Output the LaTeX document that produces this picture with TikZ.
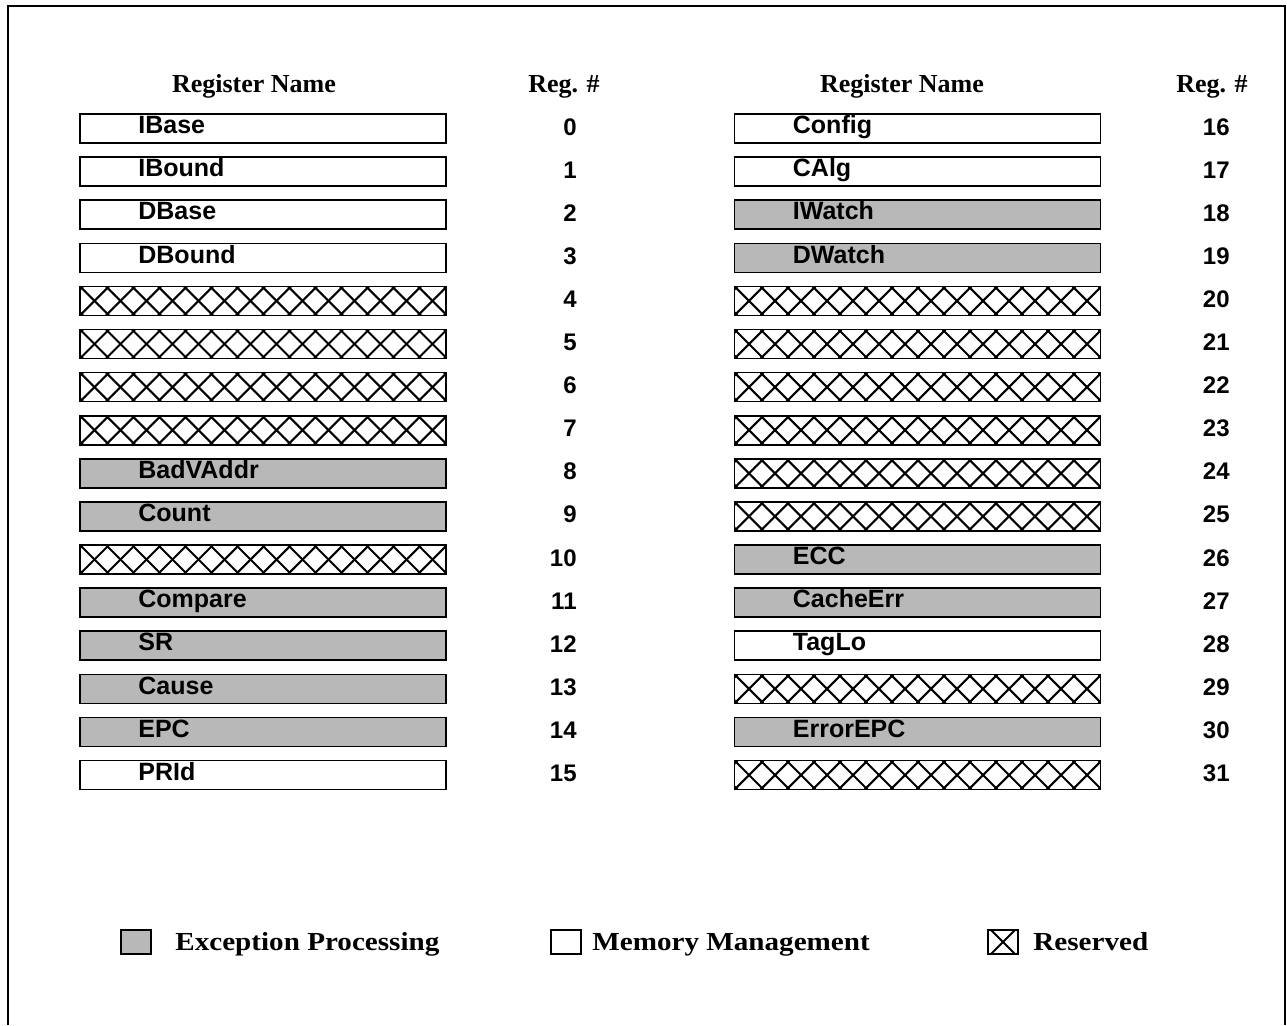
\documentclass[tikz,border=0pt]{standalone}
\usepackage{fontspec}
\setmainfont{Liberation Serif}
\setsansfont{Liberation Sans}
\newfontfamily\legendfont[FakeStretch=1.12]{Liberation Serif}
\begin{document}
\begin{tikzpicture}[x=0.5pt,y=-0.5pt,
  regbox/.style={draw=black, line width=0.8pt, minimum width=183pt, minimum height=14.5pt, inner sep=0pt, outer sep=0pt},
  memreg/.style={regbox, fill=white},
  excreg/.style={regbox, fill=black!28},
  rsvreg/.style={regbox, fill=white, path picture={
      \foreach \k in {-2,...,15}{
        \draw[line width=1.05pt] ([xshift=\k*13pt]path picture bounding box.north west) -- ++(14.5pt,-14.5pt);
        \draw[line width=1.05pt] ([xshift=\k*13pt+14.5pt]path picture bounding box.north west) -- ++(-14.5pt,-14.5pt);
      }}},
  regtext/.style={font=\sffamily\bfseries\fontsize{12.5}{14}\selectfont, inner sep=0pt, anchor=base west},
  regnum/.style={font=\sffamily\bfseries\fontsize{12}{14}\selectfont, inner sep=0pt, anchor=base east},
  header/.style={font=\bfseries\fontsize{13}{15}\selectfont, inner sep=0pt, anchor=base},
  legendtext/.style={font=\legendfont\bfseries\fontsize{13}{15}\selectfont, inner sep=0pt, anchor=base west},
  keybox/.style={draw=black, line width=0.8pt, minimum width=15pt, minimum height=12pt, inner sep=0pt, outer sep=0pt},
  keyrsv/.style={keybox, fill=white, path picture={
      \foreach \k in {-1,0,1}{
        \draw[line width=1pt] ([xshift=\k*13pt+1.5pt]path picture bounding box.north west) -- ++(12pt,-12pt);
        \draw[line width=1pt] ([xshift=\k*13pt+13.5pt]path picture bounding box.north west) -- ++(-12pt,-12pt);
      }}}
]
\useasboundingbox (0,0) rectangle (1287,1025);

% outer frame, open at the bottom
\draw[line width=1pt] (8,1025) -- (8,6) -- (1285,6) -- (1285,1025);

% column headings
\node[header] (hnameL) at (254,92) {Register Name};
\node[header] (hnumL)  at (564,92) {Reg. \#};
\node[header] (hnameR) at (902,92) {Register Name};
\node[header] (hnumR)  at (1212,92) {Reg. \#};

% registers 0--15
\foreach \i/\kind/\name in {0/memreg/IBase, 1/memreg/IBound, 2/memreg/DBase, 3/memreg/DBound,
    4/rsvreg/, 5/rsvreg/, 6/rsvreg/, 7/rsvreg/,
    8/excreg/BadVAddr, 9/excreg/Count, 10/rsvreg/, 11/excreg/Compare,
    12/excreg/SR, 13/excreg/Cause, 14/excreg/EPC, 15/memreg/PRId}{
  \node[\kind] (L\i) at (263,{128.5+43.1*\i}) {};
  \node[regtext] (L\i t) at ([xshift=29pt,yshift=-2.6pt]L\i.west) {\name};
  \node[regnum] (L\i n) at (577,{135+43.1*\i}) {\i};
}

% registers 16--31
\foreach \i/\kind/\name in {16/memreg/Config, 17/memreg/CAlg, 18/excreg/IWatch, 19/excreg/DWatch,
    20/rsvreg/, 21/rsvreg/, 22/rsvreg/, 23/rsvreg/, 24/rsvreg/, 25/rsvreg/,
    26/excreg/ECC, 27/excreg/CacheErr, 28/memreg/TagLo, 29/rsvreg/,
    30/excreg/ErrorEPC, 31/rsvreg/}{
  \node[\kind] (R\i) at (917.5,{128.5+43.1*(\i-16)}) {};
  \node[regtext] (R\i t) at ([xshift=29pt,yshift=-2.6pt]R\i.west) {\name};
  \node[regnum] (R\i n) at (1230,{135+43.1*(\i-16)}) {\i};
}

% legend
\node[keybox, fill=black!28] (kexc) at (136,942) {};
\node[legendtext] (kexct) at (175,950) {Exception Processing};
\node[keybox, fill=white] (kmem) at (566,942) {};
\node[legendtext] (kmemt) at (592,950) {Memory Management};
\node[keyrsv] (krsv) at (1003,942) {};
\node[legendtext] (krsvt) at (1033,950) {Reserved};
\end{tikzpicture}
\end{document}
